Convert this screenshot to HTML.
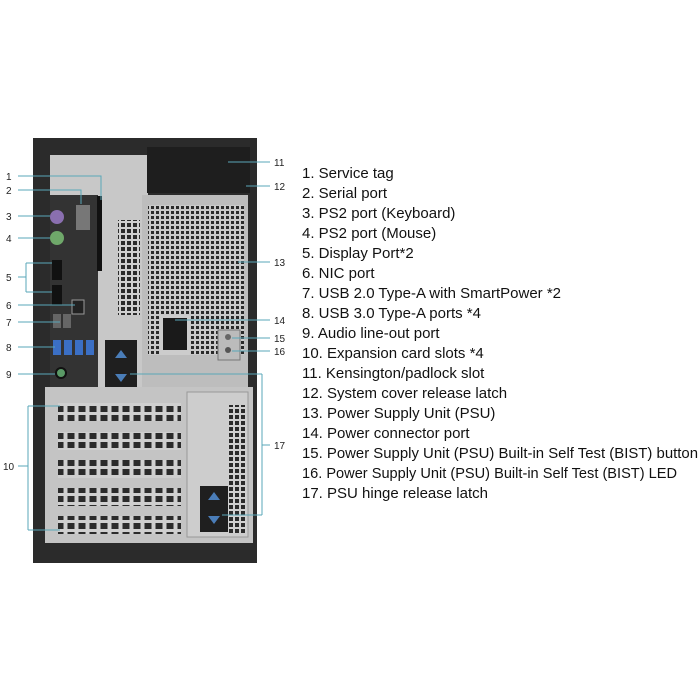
<!DOCTYPE html>
<html><head><meta charset="utf-8"><style>
html,body{margin:0;padding:0;background:#fff;width:700px;height:700px;overflow:hidden}
</style></head><body>
<svg width="700" height="700" viewBox="0 0 700 700" xmlns="http://www.w3.org/2000/svg" font-family="Liberation Sans, sans-serif">
<defs>
<pattern id="mesh" width="5" height="5" patternUnits="userSpaceOnUse"><rect width="5" height="5" fill="#c9c9c9"/><rect x="1" y="1" width="3" height="3" fill="#2a2a2a"/></pattern>
<pattern id="grid" width="11" height="9" patternUnits="userSpaceOnUse"><rect width="11" height="9" fill="#cfcfcf"/><rect x="1.5" y="1" width="7" height="6" fill="#2b2b2b"/></pattern>
<pattern id="grid2" width="6" height="6" patternUnits="userSpaceOnUse"><rect width="6" height="6" fill="#d0d0d0"/><rect x="1" y="1" width="4" height="4" fill="#2b2b2b"/></pattern>
</defs>
<rect x="33" y="138" width="224" height="425" fill="#2b2b2b"/>
<rect x="50" y="155" width="98" height="232" fill="#c8c8c8"/>
<rect x="50" y="195" width="48" height="192" fill="#333"/>
<rect x="147" y="147" width="103" height="46" fill="#1e1e1e"/>
<rect x="142" y="195" width="106" height="195" fill="#bdbdbd"/>
<rect x="148" y="205" width="96" height="150" fill="url(#mesh)"/>
<rect x="160" y="315" width="30" height="40" fill="#ccc"/>
<rect x="163" y="318" width="24" height="32" fill="#1a1a1a"/>
<rect x="218" y="330" width="22" height="30" fill="#bbb" stroke="#777"/>
<circle cx="228" cy="337" r="3" fill="#666"/><circle cx="228" cy="350" r="3" fill="#555"/>
<rect x="118" y="220" width="22" height="95" fill="url(#grid2)"/>
<rect x="105" y="340" width="32" height="50" fill="#1f1f1f"/>
<polygon points="115,358 121,350 127,358" fill="#4a7db8"/>
<polygon points="115,374 121,382 127,374" fill="#4a7db8"/>
<circle cx="57" cy="217" r="7" fill="#8a6fb0"/>
<circle cx="57" cy="238" r="7" fill="#6fa86a"/>
<rect x="76" y="205" width="14" height="25" fill="#777"/>
<rect x="97" y="196" width="5" height="75" fill="#111"/>
<rect x="52" y="260" width="10" height="20" fill="#111"/>
<rect x="52" y="285" width="10" height="20" fill="#111"/>
<rect x="72" y="300" width="12" height="14" fill="#222" stroke="#999"/>
<rect x="53" y="314" width="8" height="14" fill="#666"/><rect x="63" y="314" width="8" height="14" fill="#666"/>
<rect x="53" y="340" width="8" height="15" fill="#3b6fc4"/><rect x="64" y="340" width="8" height="15" fill="#3b6fc4"/><rect x="75" y="340" width="8" height="15" fill="#3b6fc4"/><rect x="86" y="340" width="8" height="15" fill="#3b6fc4"/>
<circle cx="61" cy="373" r="5" fill="#5a9a66" stroke="#111" stroke-width="2"/>
<rect x="45" y="387" width="208" height="156" fill="#c4c4c4"/>
<rect x="58" y="403" width="123" height="18" fill="url(#grid)"/>
<rect x="58" y="432" width="123" height="18" fill="url(#grid)"/>
<rect x="58" y="460" width="123" height="18" fill="url(#grid)"/>
<rect x="58" y="488" width="123" height="18" fill="url(#grid)"/>
<rect x="58" y="516" width="123" height="18" fill="url(#grid)"/>
<rect x="187" y="392" width="61" height="145" fill="#cdcdcd" stroke="#999"/>
<rect x="228" y="405" width="18" height="128" fill="url(#grid2)"/>
<rect x="200" y="486" width="28" height="46" fill="#1f1f1f"/>
<polygon points="208,500 214,492 220,500" fill="#4a7db8"/>
<polygon points="208,516 214,524 220,516" fill="#4a7db8"/>
<rect x="33" y="543" width="224" height="20" fill="#2b2b2b"/>
<g stroke="#5aa7b8" stroke-width="1" fill="none">
<path d="M18,176 H101 V200"/><path d="M18,190 H81 V204"/>
<path d="M18,216 H50"/><path d="M18,238 H50"/>
<path d="M18,277 H26 M26,263 V292 M26,263 H52 M26,292 H52"/>
<path d="M18,305 H75"/><path d="M18,322 H60"/><path d="M18,347 H55"/><path d="M18,374 H55"/>
<path d="M18,466 H28 M28,406 V530 M28,406 H60 M28,530 H60"/>
<path d="M270,162 H228"/><path d="M270,186 H246"/><path d="M270,262 H238"/>
<path d="M270,320 H175"/><path d="M270,338 H232"/><path d="M270,351 H232"/>
<path d="M270,445 H262 M262,374 V515 M262,374 H130 M262,515 H222"/>
</g>
<g font-size="10" fill="#222">
<text x="6" y="180">1</text><text x="6" y="194">2</text><text x="6" y="220">3</text><text x="6" y="242">4</text>
<text x="6" y="281">5</text><text x="6" y="309">6</text><text x="6" y="326">7</text><text x="6" y="351">8</text>
<text x="6" y="378">9</text><text x="3" y="470">10</text>
<text x="274" y="166">11</text><text x="274" y="190">12</text><text x="274" y="266">13</text>
<text x="274" y="324">14</text><text x="274" y="342">15</text><text x="274" y="355">16</text><text x="274" y="449">17</text>
</g>
<g font-size="15" fill="#111">
<text x="302" y="178">1.   Service tag</text>
<text x="302" y="198">2. Serial port</text>
<text x="302" y="218">3. PS2 port (Keyboard)</text>
<text x="302" y="238">4. PS2 port (Mouse)</text>
<text x="302" y="258">5. Display Port*2</text>
<text x="302" y="278">6. NIC port</text>
<text x="302" y="298">7. USB 2.0 Type-A with SmartPower *2</text>
<text x="302" y="318">8. USB 3.0 Type-A ports *4</text>
<text x="302" y="338">9. Audio line-out port</text>
<text x="302" y="358">10. Expansion card slots *4</text>
<text x="302" y="378">11. Kensington/padlock slot</text>
<text x="302" y="398">12. System cover release latch</text>
<text x="302" y="418">13. Power Supply Unit (PSU)</text>
<text x="302" y="438">14. Power connector port</text>
<text x="302" y="458" textLength="396" lengthAdjust="spacingAndGlyphs">15. Power Supply Unit (PSU) Built-in Self Test (BIST) button</text>
<text x="302" y="478" textLength="375" lengthAdjust="spacingAndGlyphs">16. Power Supply Unit (PSU) Built-in Self Test (BIST) LED</text>
<text x="302" y="498">17. PSU hinge release latch</text>
</g>
</svg>
</body></html>
